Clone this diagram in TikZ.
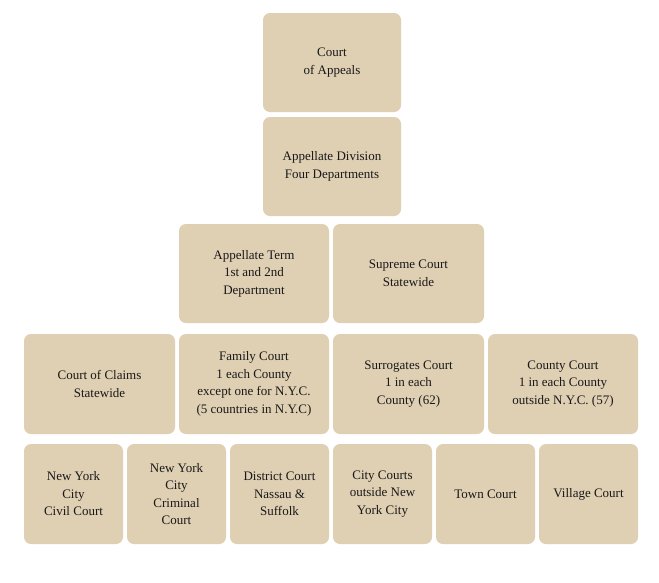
\documentclass[tikz,border=0pt]{standalone}
\usepackage{fontspec}
\setmainfont{Liberation Serif}
\definecolor{boxc}{HTML}{DFCFB3}
\begin{document}
\begin{tikzpicture}[x=1pt,y=-1pt,
  cbox/.style={fill=boxc,draw=none,rounded corners=7pt},
  ctext/.style={align=center,font=\fontsize{13}{17.5}\selectfont,text=black!90}]
\useasboundingbox[fill=white] (0,0) rectangle (659,582);
\newcommand\cbx[6]{\fill[cbox] (#2,#3) rectangle (#4,#5);
  \node[ctext] (#1) at ({(#2+#4)/2},{(#3+#5)/2}) {#6};}
\cbx{a}{263}{13}{401}{112}{Court\\of Appeals}
\cbx{b}{263}{117}{401}{216}{Appellate Division\\Four Departments}
\cbx{c}{179}{224}{329}{323}{Appellate Term\\1st and 2nd\\Department}
\cbx{d}{333}{224}{484}{323}{Supreme Court\\Statewide}
\cbx{e}{24}{334}{175}{434}{Court of Claims\\Statewide}
\cbx{f}{179}{334}{329}{434}{Family Court\\1 each County\\except one for N.Y.C.\\(5 countries in N.Y.C)}
\cbx{g}{333}{334}{484}{434}{Surrogates Court\\1 in each\\County (62)}
\cbx{h}{488}{334}{638}{434}{County Court\\1 in each County\\outside N.Y.C. (57)}
\cbx{i}{24}{444}{123}{544}{New York\\City\\Civil Court}
\cbx{j}{127}{444}{226}{544}{New York\\City\\Criminal\\Court}
\cbx{k}{230}{444}{329}{544}{District Court\\Nassau \&\\Suffolk}
\cbx{l}{333}{444}{432}{544}{City Courts\\outside New\\York City}
\cbx{m}{436}{444}{535}{544}{Town Court}
\cbx{n}{539}{444}{638}{544}{Village Court}
\end{tikzpicture}
\end{document}
